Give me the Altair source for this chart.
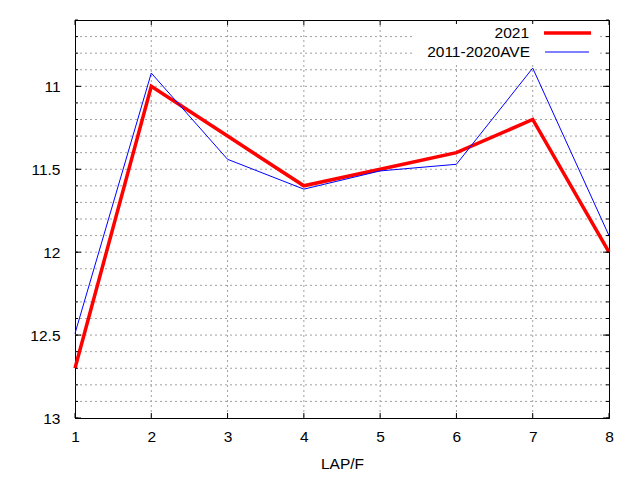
import altair as alt
import pandas as pd

# ---- data ----
laps = [1, 2, 3, 4, 5, 6, 7, 8]
series_names = ["2021", "2011-2020AVE"]
y2021 = [12.7, 11.0, 11.3, 11.6, 11.5, 11.4, 11.2, 12.0]
yave = [12.49, 10.92, 11.44, 11.62, 11.51, 11.47, 10.89, 11.90]

x_ticks = [1, 2, 3, 4, 5, 6, 7, 8]
y_major = [11, 11.5, 12, 12.5, 13]
y_minor = [10.6, 10.7, 10.8, 10.9, 11.0, 11.1, 11.2, 11.3, 11.4, 11.5, 11.6,
           11.7, 11.8, 11.9, 12.0, 12.1, 12.2, 12.3, 12.4, 12.5, 12.6, 12.7,
           12.8, 12.9, 13.0]
y_domain = [10.6, 13]
x_domain = [1, 8]

W, H = 534, 398
FONT = "Liberation Sans"
FS = 15.5

df = pd.DataFrame({
    "lap": laps * 2,
    "time": y2021 + yave,
    "series": [series_names[0]] * len(laps) + [series_names[1]] * len(laps),
})

xs = alt.Scale(domain=x_domain, nice=False, zero=False)
ys = alt.Scale(domain=y_domain, nice=False, zero=False, reverse=True)

grid_color = "#a0a0a0"
dash = [2, 3]

xaxis = alt.Axis(values=x_ticks, ticks=False, grid=False, labelPadding=11,
                 titlePadding=12, domain=True, domainColor="black",
                 labelFlush=False, labelOverlap=False,
                 labelFont=FONT, labelFontSize=FS, labelColor="black",
                 titleFont=FONT, titleFontSize=FS, titleFontWeight="normal",
                 titleColor="black", format="d")
yaxis = alt.Axis(values=y_major, ticks=False, grid=False, labelPadding=15,
                 domain=True, domainColor="black", format="~g",
                 labelFlush=False, labelOverlap=False,
                 labelFont=FONT, labelFontSize=FS, labelColor="black")

# horizontal grid
hgrid = alt.Chart(pd.DataFrame({"v": y_minor[1:-1]})).mark_rule(
    color=grid_color, strokeDash=dash, strokeWidth=1
).encode(y=alt.Y("v:Q", scale=ys, axis=yaxis, title=None), x=alt.value(0), x2=alt.value(W))

# vertical grid
vgrid = alt.Chart(pd.DataFrame({"v": x_ticks[1:-1]})).mark_rule(
    color=grid_color, strokeDash=dash, strokeWidth=1
).encode(x=alt.X("v:Q", scale=xs, axis=xaxis, title="LAP/F"), y=alt.value(0), y2=alt.value(H))

# inward tick marks
minor_df = pd.DataFrame({"v": y_minor})
major_df = pd.DataFrame({"v": y_major})
xt_df = pd.DataFrame({"v": x_ticks})
tick_l_min = alt.Chart(minor_df).mark_rule(color="black").encode(
    y=alt.Y("v:Q", scale=ys, axis=yaxis, title=None), x=alt.value(0), x2=alt.value(3))
tick_r_min = alt.Chart(minor_df).mark_rule(color="black").encode(
    y=alt.Y("v:Q", scale=ys, axis=yaxis, title=None), x=alt.value(W - 3), x2=alt.value(W))
tick_l_maj = alt.Chart(major_df).mark_rule(color="black").encode(
    y=alt.Y("v:Q", scale=ys, axis=yaxis, title=None), x=alt.value(0), x2=alt.value(6))
tick_r_maj = alt.Chart(major_df).mark_rule(color="black").encode(
    y=alt.Y("v:Q", scale=ys, axis=yaxis, title=None), x=alt.value(W - 6), x2=alt.value(W))
tick_b = alt.Chart(xt_df).mark_rule(color="black").encode(
    x=alt.X("v:Q", scale=xs, axis=xaxis, title="LAP/F"), y=alt.value(H - 5), y2=alt.value(H))
tick_t = alt.Chart(xt_df).mark_rule(color="black").encode(
    x=alt.X("v:Q", scale=xs, axis=xaxis, title="LAP/F"), y=alt.value(0), y2=alt.value(5))

base = alt.Chart(df).encode(
    x=alt.X("lap:Q", scale=xs, title="LAP/F", axis=xaxis),
    y=alt.Y("time:Q", scale=ys, title=None, axis=yaxis),
)

line21 = base.transform_filter(alt.datum.series == series_names[0]).mark_line(
    color="#ff0000", strokeWidth=3.5, strokeJoin="miter")
lineave = base.transform_filter(alt.datum.series == series_names[1]).mark_line(
    color="#0000ff", strokeWidth=1)

# key (gnuplot style: text right-aligned, sample on the right)
key_df = pd.DataFrame({"name": series_names, "row": [0, 1]})
key_bg = alt.Chart(pd.DataFrame({"a": [0]})).mark_rect(color="white").encode(
    x=alt.value(338), x2=alt.value(523), y=alt.value(4), y2=alt.value(44))
key_t1 = alt.Chart(key_df).transform_filter(alt.datum.row == 0).mark_text(
    align="right", baseline="middle", font=FONT, fontSize=FS, color="black"
).encode(text="name:N", x=alt.value(454), y=alt.value(13))
key_t2 = alt.Chart(key_df).transform_filter(alt.datum.row == 1).mark_text(
    align="right", baseline="middle", font=FONT, fontSize=FS, color="black"
).encode(text="name:N", x=alt.value(455), y=alt.value(32))
key_l1 = alt.Chart(pd.DataFrame({"a": [0]})).mark_rule(color="#ff0000", strokeWidth=3.5).encode(
    x=alt.value(469), x2=alt.value(516), y=alt.value(13))
key_l2 = alt.Chart(pd.DataFrame({"a": [0]})).mark_rule(color="#0000ff", strokeWidth=1).encode(
    x=alt.value(470), x2=alt.value(514), y=alt.value(32))

chart = alt.layer(
    hgrid, vgrid, line21, lineave,
    tick_l_min, tick_r_min, tick_l_maj, tick_r_maj, tick_b, tick_t,
    key_bg, key_t1, key_t2, key_l1, key_l2,
).properties(
    width=W, height=H,
    autosize=alt.AutoSizeParams(type="none"),
    padding={"left": 67, "top": 12, "right": 23, "bottom": 60},
).configure(
    background="white"
).configure_view(
    stroke="black", strokeWidth=1
)

chart.save("out.html", embed_options={"renderer": "svg", "actions": False})
